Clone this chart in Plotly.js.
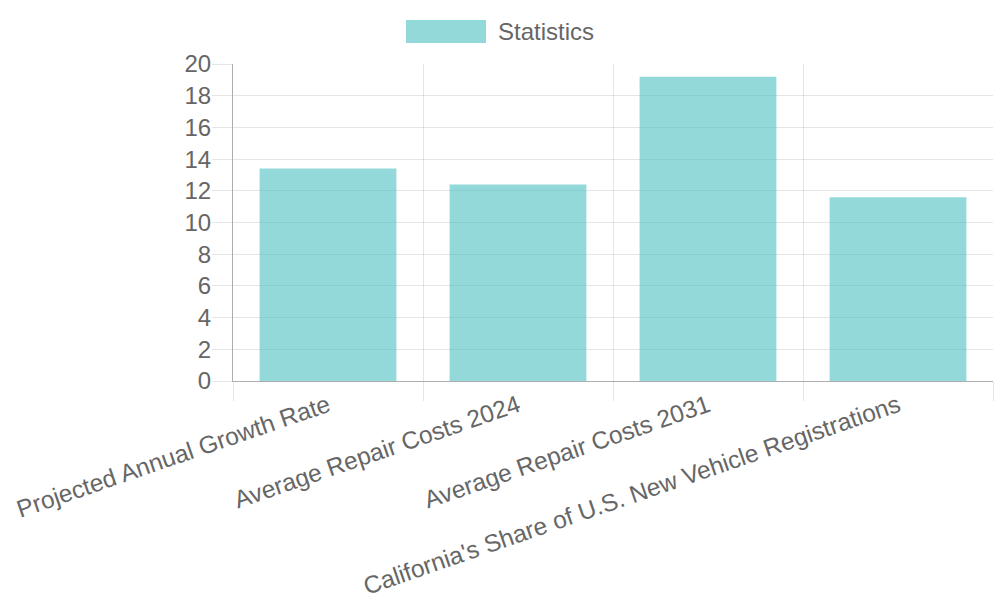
<!DOCTYPE html>
<html>
<head>
<meta charset="utf-8">
<script src="https://cdn.plot.ly/plotly-3.0.1.min.js"></script>
<style>
  html, body { margin: 0; padding: 0; background: #fff; }
  #chart { width: 1000px; height: 600px; }
</style>
</head>
<body>
<div id="chart"></div>
<script>
// Data
const categories = [
  "Projected Annual Growth Rate",
  "Average Repair Costs 2024",
  "Average Repair Costs 2031",
  "California's Share of U.S. New Vehicle Registrations",
];
const values = [13.4, 12.4, 19.2, 11.6];
const seriesName = "Statistics";

const fillColor = "rgba(75, 192, 192, 0.6)";
const gridColor = "rgba(0, 0, 0, 0.1)";
const axisColor = "rgba(0, 0, 0, 0.32)";
const textColor = "#666";

let traces = [
  {
    type: "bar",
    x: categories,
    y: values,
    name: seriesName,
    width: 0.72,
    marker: { color: fillColor, line: { width: 0 } },
    hoverinfo: "x+y",
  },
];

let layout = {
  width: 1000,
  height: 600,
  margin: { l: 233, r: 7, t: 64, b: 219 },
  paper_bgcolor: "#fff",
  plot_bgcolor: "#fff",
  font: { family: "Liberation Sans, Arial, sans-serif", size: 24, color: textColor },
  showlegend: false,
  xaxis: {
    type: "category",
    range: [-0.5, categories.length - 0.5],
    tickson: "boundaries",
    ticks: "outside",
    ticklen: 19,
    tickcolor: gridColor,
    showgrid: true,
    gridcolor: gridColor,
    showline: true,
    linecolor: axisColor,
    tickangle: -19,
    tickfont: { size: 24.5, color: textColor },
    automargin: false,
  },
  yaxis: {
    range: [0, 20],
    dtick: 2,
    ticks: "outside",
    ticklen: 20,
    tickcolor: gridColor,
    showgrid: true,
    gridcolor: gridColor,
    zeroline: false,
    showline: true,
    linecolor: axisColor,
    tickfont: { size: 24, color: textColor },
    ticklabelstandoff: -4,
    automargin: false,
  },
  // custom legend box, Chart.js style
  shapes: [
    {
      type: "rect",
      xref: "paper",
      yref: "paper",
      x0: (406 - 233) / 760,
      x1: (486 - 233) / 760,
      y0: (381 - 43) / 317,
      y1: (381 - 20) / 317,
      fillcolor: fillColor,
      line: { width: 0 },
    },
  ],
  annotations: [
    {
      xref: "paper",
      yref: "paper",
      x: (496 - 233) / 760,
      y: (381 - 31.5) / 317,
      xanchor: "left",
      yanchor: "middle",
      text: seriesName,
      showarrow: false,
      font: { size: 24, color: textColor },
    },
  ],
};

Plotly.newPlot("chart", traces, layout, { displayModeBar: false, staticPlot: true });
</script>
</body>
</html>
